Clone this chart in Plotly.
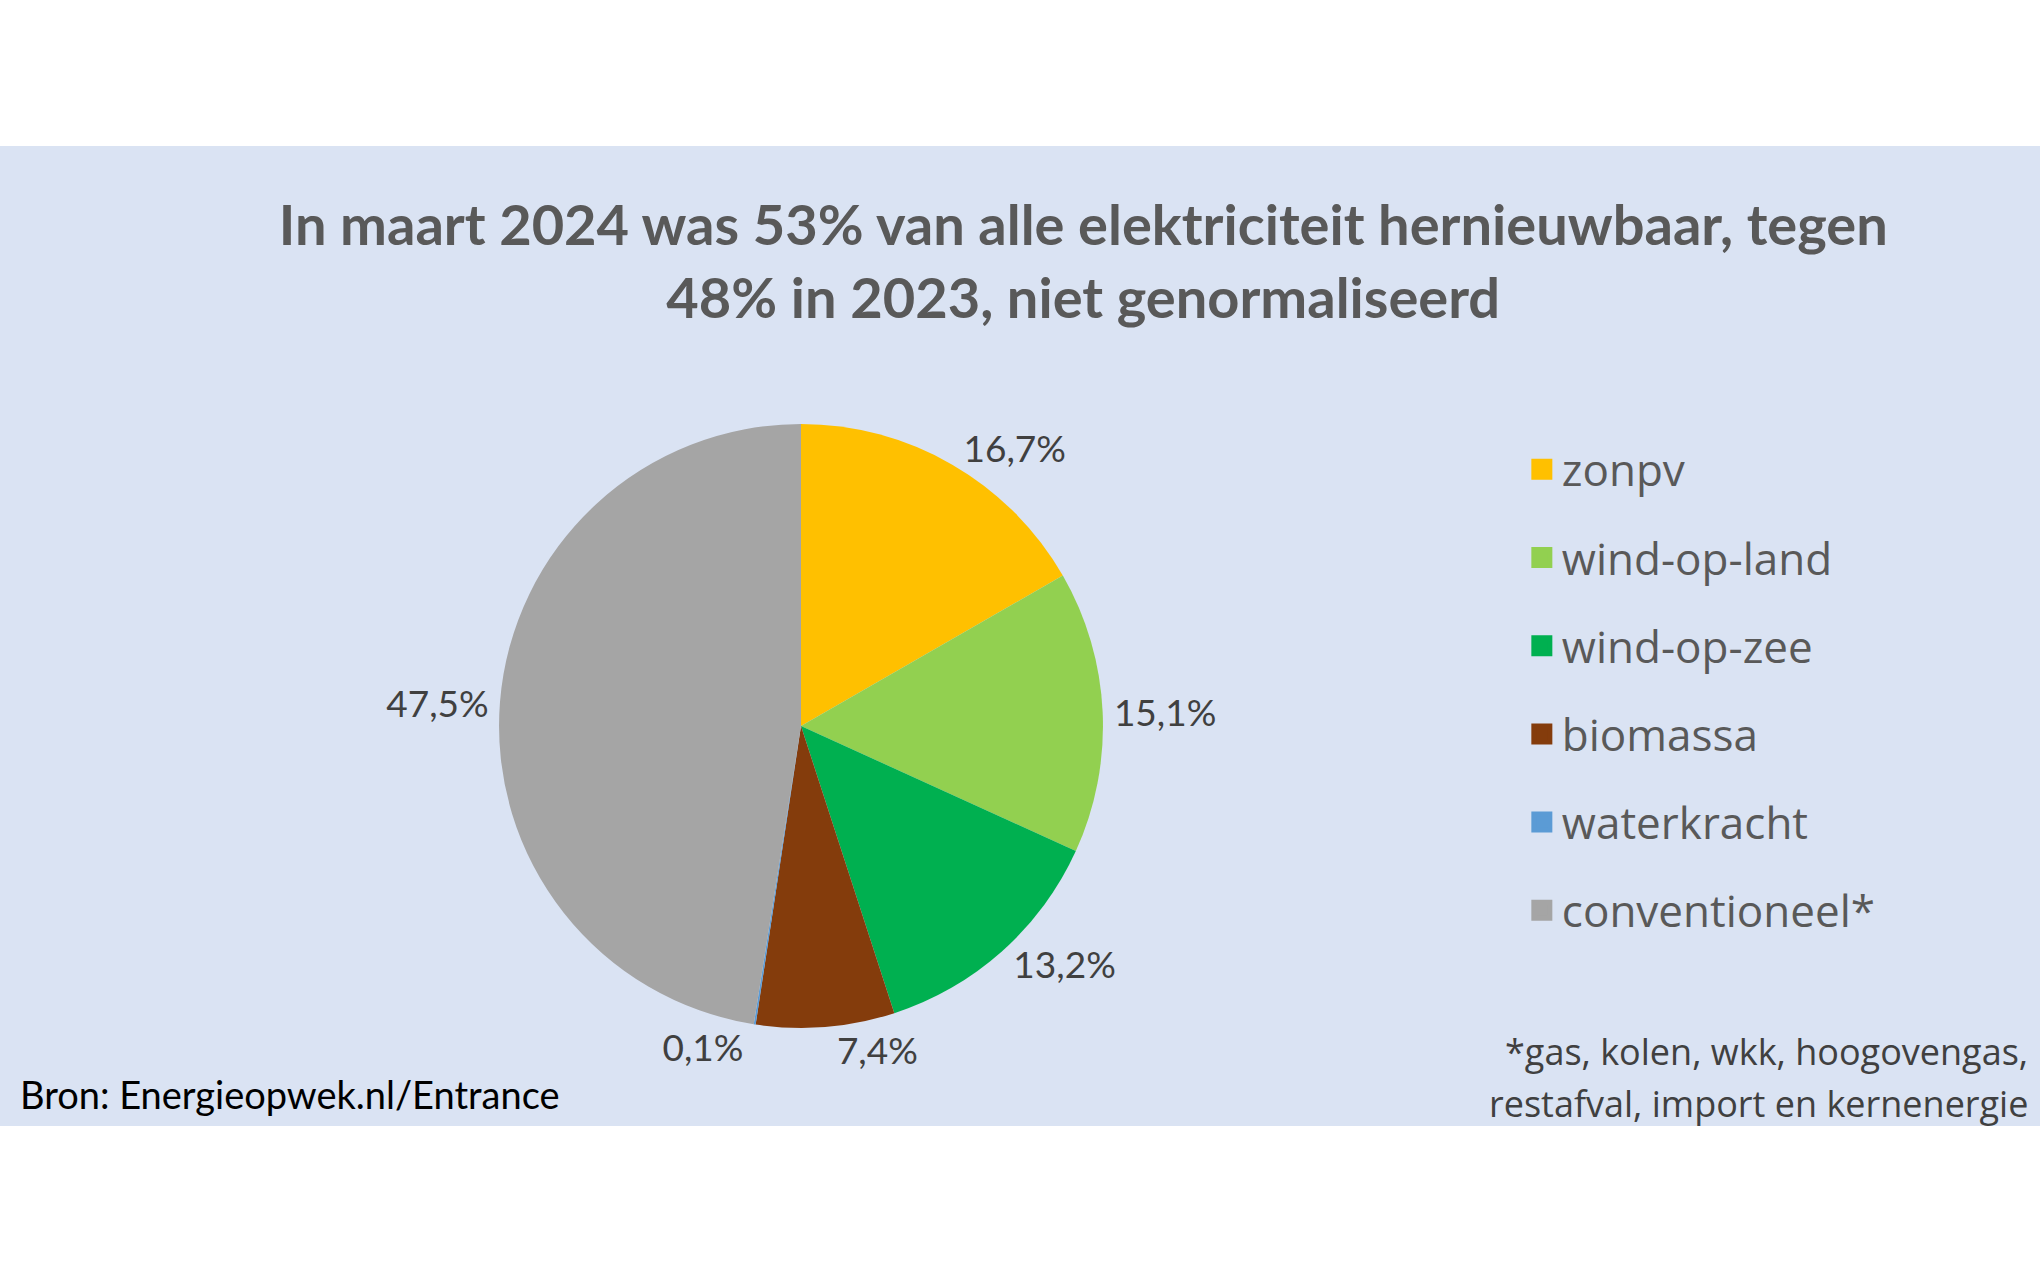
import plotly.graph_objects as go

# March 2024 electricity mix (share of total, %)
labels = ["zonpv", "wind-op-land", "wind-op-zee", "biomassa", "waterkracht", "conventioneel*"]
shares = [16.7, 15.1, 13.2, 7.4, 0.1, 47.5]
colors = ["#FFC000", "#92D050", "#00B050", "#843C0C", "#5B9BD5", "#A5A5A5"]

title = "In maart 2024 was 53% van alle elektriciteit hernieuwbaar, tegen<br>48% in 2023, niet genormaliseerd"
source = "Bron: Energieopwek.nl/Entrance"
footnote_lines = ["*gas, kolen, wkk, hoogovengas,", "restafval, import en kernenergie"]

W, H = 2040, 1276

fig = go.Figure()

fig.add_trace(go.Pie(
    labels=labels,
    values=shares,
    sort=False,
    direction="clockwise",
    rotation=0,
    marker=dict(colors=colors, line=dict(width=0)),
    texttemplate="%{percent:.1%}",
    textposition="outside",
    outsidetextfont=dict(family="Lato", size=37, color="#404040"),
    domain=dict(x=[0.2446, 0.5407], y=[0.1944, 0.6677]),
    showlegend=False,
    hoverinfo="label+percent",
))

# legend entries (one group each so the rows can be spaced out)
for name, col in zip(labels, colors):
    fig.add_trace(go.Scatter(
        x=[None], y=[None], mode="markers", name=name, legendgroup=name,
        marker=dict(symbol="square", size=16, color=col, line=dict(width=5, color=col)),
    ))

notes = [
    dict(text=source, xref="paper", yref="paper", x=18 / W, y=1 - 1094 / H,
         xanchor="left", yanchor="middle", showarrow=False,
         font=dict(family="Lato", size=38, color="#000000")),
]
for line, ypx in zip(footnote_lines, [1051, 1103]):
    notes.append(dict(text=line, xref="paper", yref="paper", x=2030 / W, y=1 - ypx / H,
                      xanchor="right", yanchor="middle", showarrow=False,
                      font=dict(family="Open Sans", size=36, color="#404040")))

fig.update_layout(
    width=W, height=H,
    margin=dict(l=0, r=0, t=0, b=0),
    paper_bgcolor="white",
    plot_bgcolor="rgba(0,0,0,0)",
    separators=",.",
    xaxis=dict(visible=False),
    yaxis=dict(visible=False),
    title=dict(text=title, x=0.531, xanchor="center", y=0.808, yanchor="middle",
               font=dict(family="Lato", size=56, color="#595959", weight="bold")),
    legend=dict(x=0.746, xanchor="left", y=0.6597, yanchor="top",
                font=dict(family="Open Sans", size=44, color="#595959"),
                tracegroupgap=28, bgcolor="rgba(0,0,0,0)"),
    shapes=[dict(type="rect", xref="paper", yref="paper", x0=0, x1=1,
                 y0=1 - 1126 / H, y1=1 - 146 / H, fillcolor="#DAE3F3",
                 line=dict(width=0), layer="below")],
    annotations=notes,
)

fig.write_html("out.html", config={"displayModeBar": False},
               post_script="document.body.style.margin='0';")
